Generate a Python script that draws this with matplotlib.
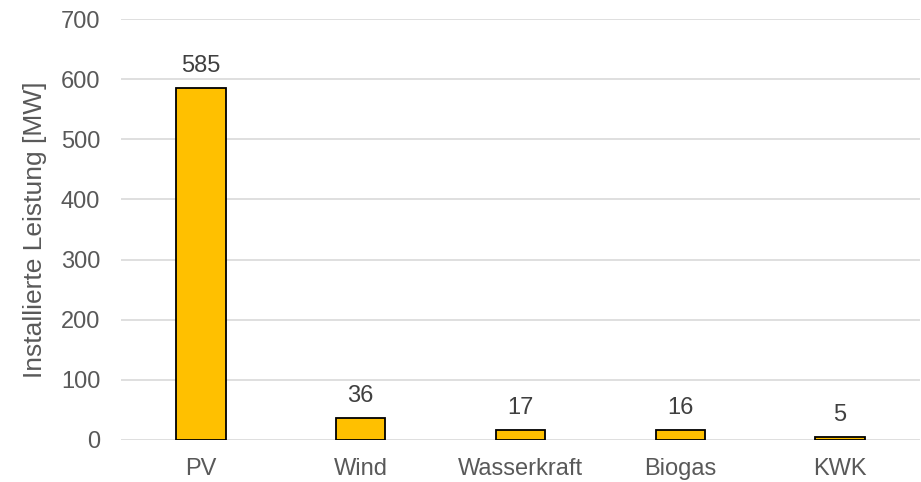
import matplotlib
matplotlib.use("Agg")
import matplotlib.pyplot as plt

categories = ["PV", "Wind", "Wasserkraft", "Biogas", "KWK"]
values = [585, 36, 17, 16, 5]
yticks = [0, 100, 200, 300, 400, 500, 600, 700]

plt.rcParams["font.family"] = ["Liberation Sans", "DejaVu Sans"]
text_color = "#595959"

fig = plt.figure(figsize=(9.21, 4.82), dpi=100)
ax = fig.add_axes([121 / 921, 42 / 482, 799 / 921, 421 / 482])

x = range(len(categories))
ax.bar(x, values, width=0.31, color="#FFC000", edgecolor="black", linewidth=1.3, zorder=3)

for xi, v in zip(x, values):
    ax.annotate(str(v), (xi, v), xytext=(0, 8), textcoords="offset points",
                ha="center", va="bottom", fontsize=17, color="#404040")

ax.set_xlim(-0.5, len(categories) - 0.5)
ax.set_ylim(0, 700)
ax.set_yticks(yticks)
ax.set_xticks(list(x))
ax.set_xticklabels(categories)
ax.tick_params(axis="both", length=0, labelsize=17, labelcolor=text_color)
ax.tick_params(axis="y", pad=15)
ax.tick_params(axis="x", pad=13)
ax.grid(axis="y", color="#D9D9D9", linewidth=1.2, zorder=0)
for s in ax.spines.values():
    s.set_visible(False)
ax.set_ylabel("Installierte Leistung [MW]", fontsize=19, color=text_color)
ax.yaxis.set_label_coords(-0.0926, 0.5)

fig.savefig("out.png", dpi=100)
